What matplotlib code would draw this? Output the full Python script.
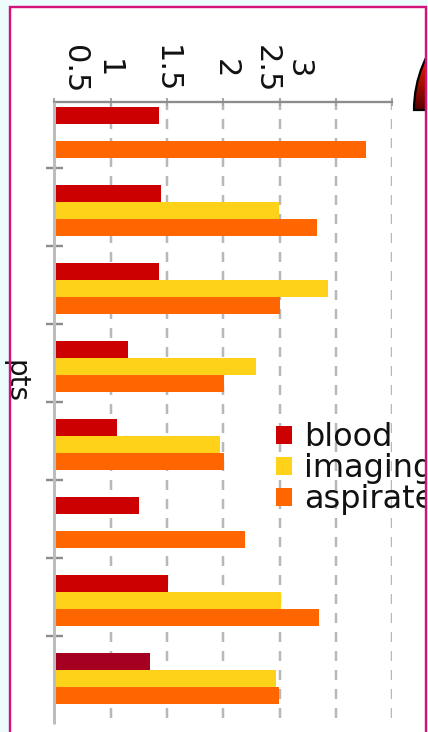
import numpy as np
import matplotlib
matplotlib.use("Agg")
import matplotlib.pyplot as plt
from matplotlib.patches import Rectangle, Wedge
from matplotlib.transforms import Bbox, TransformedBbox, blended_transform_factory

# ---- data ----
categories = ["P1", "P2", "P3", "P4", "P5", "P6", "P7", "P8"]
series = ["blood", "imaging", "aspirate"]
blood = [1.43, 1.45, 1.43, 1.15, 1.06, 1.25, 1.51, 1.35]
imaging = [0.0, 2.49, 2.93, 2.29, 1.97, 0.0, 2.51, 2.47]
aspirate = [3.27, 2.83, 2.50, 2.01, 2.01, 2.19, 2.85, 2.49]
value_ticks = [0.5, 1.0, 1.5, 2.0, 2.5, 3.0, 3.5]
tick_texts = ["0.5", "1", "1.5", "2", "2.5", "3"]
tick_text_pos = [0.68, 0.977, 1.49, 2.015, 2.38, 2.66]
axis_title = "pts"

colors = {"blood": "#cc0000", "imaging": "#ffd21a", "aspirate": "#ff6600"}
blood_last = "#a50021"

W, H = 428, 732
PT = 0.72  # points per pixel at dpi 100
plt.rcParams["font.family"] = ["DejaVu Sans"]
plt.rcParams["lines.scale_dashes"] = False

fig = plt.figure(figsize=(W / 100, H / 100), dpi=100)
fig.patch.set_facecolor("#edfbfc")


def fx(px):
    return px / W


def fy(py):
    return 1 - py / H


# card background and border
fr_l, fr_r, fr_t = 10, 426, 6.5
fig.add_artist(Rectangle((fx(fr_l), -0.1), fx(fr_r - fr_l), fy(fr_t) + 0.1,
                         transform=fig.transFigure, facecolor="white",
                         edgecolor="none", zorder=-5))
fig.add_artist(Rectangle((fx(fr_l), -0.1), fx(fr_r - fr_l), fy(fr_t) + 0.1,
                         transform=fig.transFigure, facecolor="none",
                         edgecolor="#d4137a", lw=2.4 * PT, zorder=10))

# ---- main bar axes ----
ax_l, ax_r, ax_t, ax_b = 54.3, 392.3, 102, 718
ax = fig.add_axes([fx(ax_l), fy(ax_b), fx(ax_r - ax_l), (ax_b - ax_t) / H])
ax.set_facecolor("none")

y = np.arange(len(categories))
bh = 0.22
red_colors = [colors["blood"]] * (len(categories) - 1) + [blood_last]
b1 = ax.barh(y - bh, blood, height=bh, color=red_colors, zorder=2)
b2 = ax.barh(y, imaging, height=bh, color=colors["imaging"], zorder=2)
b3 = ax.barh(y + bh, aspirate, height=bh, color=colors["aspirate"], zorder=2)

ax.set_xlim(value_ticks[0], value_ticks[-1])
ax.set_ylim(7.506, -0.391)

ax.xaxis.tick_top()
ax.set_xticks(value_ticks)
ax.set_xticklabels([])
ax.tick_params(axis="x", direction="inout", length=8 * PT, width=2 * PT,
               color="#a8a8a8")
ax.set_yticks(y[:-1] + 0.45)
ax.set_yticklabels([])
ax.tick_params(axis="y", direction="inout", length=17 * PT, width=2.4 * PT,
               color="#8c8c8c")

for s in ["bottom", "right", "left"]:
    ax.spines[s].set_visible(False)
ax.spines["top"].set_color("#8c8c8c")
ax.spines["top"].set_linewidth(2.3 * PT)
ax.plot([0, 0], [-0.01, 1.0], transform=ax.transAxes, color="#bdbdbd",
        lw=3 * PT, clip_on=False, zorder=3, solid_capstyle="butt")

ax.set_axisbelow(True)
ax.grid(axis="x", color="#b8b8b8", lw=2.5 * PT,
        linestyle=(0, (10 * PT, 9 * PT)))
ax.grid(axis="y", visible=False)

# value labels along the top
tr = blended_transform_factory(ax.transData, fig.transFigure)
for t, p in zip(tick_texts, tick_text_pos):
    ax.text(p, fy(69), t, transform=tr, rotation=-90, ha="center",
            va="center", fontsize=22, color="#111111", clip_on=False)

ax.set_ylabel(axis_title, rotation=-90, fontsize=20, color="#111111",
              ha="center", va="center")
ax.yaxis.set_label_coords((15 - ax_l) / (ax_r - ax_l),
                          1 - (382 - ax_t) / (ax_b - ax_t))

# legend, its labels clipped by the card edge
leg = fig.legend([b1, b2, b3], series, loc="upper left",
                 bbox_to_anchor=(fx(276), fy(422)), frameon=False,
                 borderpad=0, borderaxespad=0, fontsize=23,
                 handlelength=0.5, handleheight=0.5, handletextpad=0.38,
                 labelspacing=0.0)
clip = TransformedBbox(Bbox([[fx(fr_l), 0], [fx(fr_r - 1), 1]]), fig.transFigure)
for t in leg.get_texts():
    t.set_color("#111111")
    t.set_clip_box(clip)
    t.set_clip_on(True)

# gauge ornament peeking in at the upper right
cax = fig.add_axes([fx(400), fy(122), fx(26), 82 / H])
cax.set_xlim(400, 426)
cax.set_ylim(H - 122, H - 40)
cax.axis("off")
xs = np.linspace(400, 426, 80)
ys = np.linspace(H - 122, H - 40, 200)
X, Y = np.meshgrid(xs, ys)
d = np.array([425 - 414, (H - 60) - (H - 110)], dtype=float)
tt = ((X - 414) * d[0] + (Y - (H - 110)) * d[1]) / (d @ d)
tt = np.clip(tt, 0, 1)
c0 = np.array([0x55, 0x00, 0x00]) / 255
c1 = np.array([0xe8, 0x1c, 0x00]) / 255
img = c0[None, None, :] * (1 - tt[..., None]) + c1[None, None, :] * tt[..., None]
wedge = Wedge((533, H - 110), 119, 0, 180, facecolor="none",
              edgecolor="black", lw=2.2 * PT, zorder=3)
cax.add_patch(wedge)
im = cax.imshow(img, extent=[400, 426, H - 122, H - 40], origin="lower",
                aspect="auto", zorder=2)
im.set_clip_path(wedge)

fig.savefig("out.png", dpi=100)
